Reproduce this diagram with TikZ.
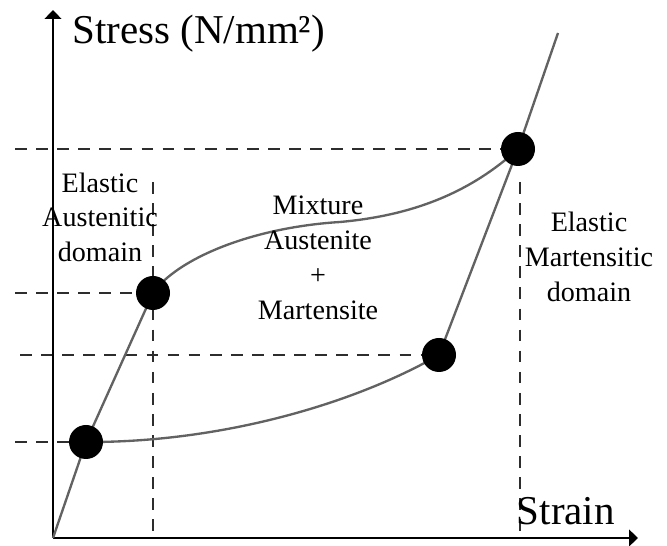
\documentclass[tikz,border=0pt]{standalone}
\usepackage{fontspec}
\setmainfont{Liberation Serif}
\definecolor{curvegray}{RGB}{98,98,98}
\definecolor{guidegray}{RGB}{45,45,45}
\usetikzlibrary{arrows.meta}

\begin{document}
\begin{tikzpicture}[
    axis/.style={line width=2.3pt, -{Triangle[length=0.27cm, width=0.5cm]}},
    curve/.style={draw=curvegray, line width=2pt},
    guide/.style={draw=guidegray, line width=1.4pt, dash pattern=on 10pt off 8pt},
    dot/.style={circle, fill=black, minimum size=1.02cm, inner sep=0pt},
    axislabel/.style={font=\fontsize{35}{40}\selectfont, inner sep=0pt, anchor=base west},
    region/.style={font=\fontsize{24}{29.8}\selectfont, align=center, inner sep=0pt},
  ]
    \useasboundingbox (0,0) rectangle (20.01,16.38);

    \coordinate (o) at (1.59,0.24);
    \coordinate (p1) at (2.58,3.12);
    \coordinate (p2) at (4.59,7.59);
    \coordinate (p3) at (15.54,11.91);
    \coordinate (p4) at (13.17,5.73);
    \coordinate (top) at (16.74,15.39);

    \coordinate (h1) at (0.45,3.12);
    \coordinate (h2) at (0.45,7.59);
    \coordinate (h3) at (0.60,5.73);
    \coordinate (h4) at (0.45,11.91);
    \coordinate (v1) at (4.59,10.92);
    \coordinate (v1b) at (4.59,0.24);
    \coordinate (v2) at (15.60,10.92);
    \coordinate (v2b) at (15.60,0.24);

    \draw[guide] (h1) -- (p1);
    \draw[guide] (h2) -- (p2);
    \draw[guide] (h3) -- (p4);
    \draw[guide] (h4) -- (p3);
    \draw[guide] (v1) -- (v1b);
    \draw[guide] (v2) -- (v2b);

    \draw[axis] (o) -- (1.59,16.08);
    \draw[axis] (o) -- (19.14,0.24);

    \draw[curve] (o) -- (p1) -- (p2);
    \draw[curve] (p2) .. controls (5.3,8.6) and (7.5,9.55) .. (10.2,9.72)
                      .. controls (12.2,9.9) and (14.0,10.5) .. (p3);
    \draw[curve] (p3) -- (top);
    \draw[curve] (p3) -- (p4);
    \draw[curve] (p1) .. controls (6.5,3.1) and (10.5,4.2) .. (p4);

    \node[dot] (d1) at (p1) {};
    \node[dot] (d2) at (p2) {};
    \node[dot] (d3) at (p3) {};
    \node[dot] (d4) at (p4) {};

    \node[axislabel] (ylab) at (2.16,15.06) {Stress (N/mm²)};
    \node[axislabel] (xlab) at (15.50,0.63) {Strain};

    \node[region] (aust) at (3.00,9.86) {Elastic\\Austenitic\\domain};
    \node[region] (mix) at (9.54,8.64) {Mixture\\Austenite\\+\\Martensite};
    \node[region] (mart) at (17.67,8.67) {Elastic\\Martensitic\\domain};
\end{tikzpicture}
\end{document}
